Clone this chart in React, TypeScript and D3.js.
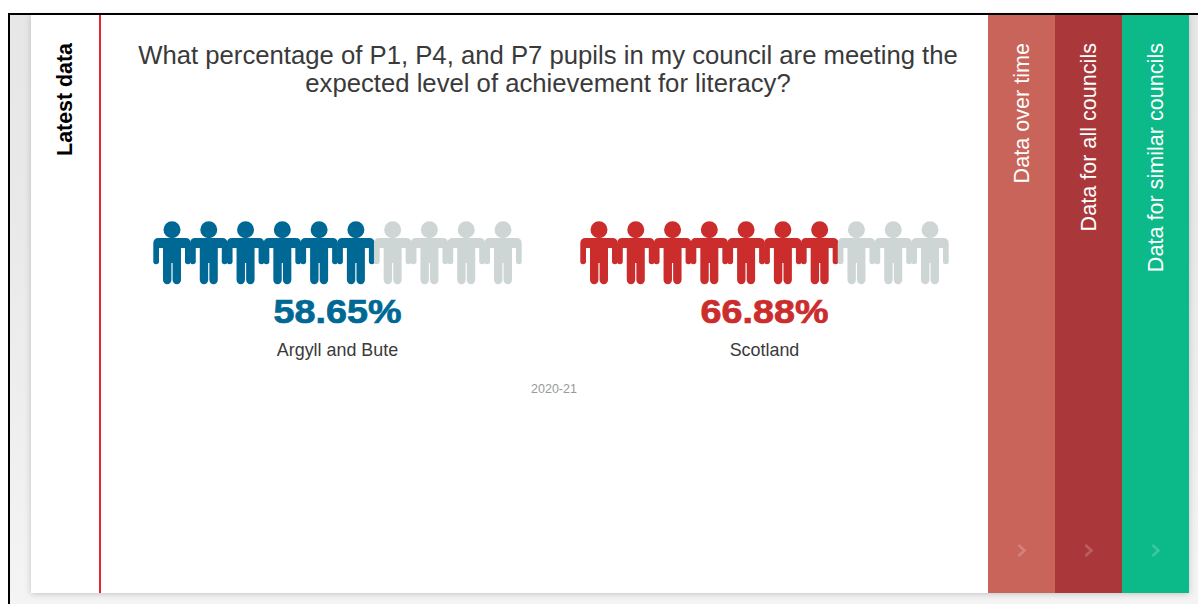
import React from "react";
import * as d3 from "d3";

const titleLines = [
  "What percentage of P1, P4, and P7 pupils in my council are meeting the",
  "expected level of achievement for literacy?",
];
const areas = ["Argyll and Bute", "Scotland"];
const percents = [58.65, 66.88];
const areaColors = ["#006894", "#cb2c2c"];
const year = "2020-21";
const iconSlots = d3.range(10);
const tabLabels = ["Data over time", "Data for all councils", "Data for similar councils"];
const tabColors = ["#c9645a", "#aa383a", "#0cba89"];

const W = 1198;
const H = 604;

// person glyph, origin at the middle of the shoulders
const body = d3.path();
body.moveTo(-13.5, 0);
body.lineTo(13.5, 0);
body.quadraticCurveTo(18.7, 0, 18.7, 5.5);
body.lineTo(18.7, 23.5);
body.quadraticCurveTo(18.7, 26.2, 16, 26.2);
body.quadraticCurveTo(13, 26.2, 13, 23.5);
body.lineTo(13, 10);
body.lineTo(9, 10);
body.lineTo(9, 42);
body.arc(4.8, 42, 4.2, 0, Math.PI);
body.lineTo(0.6, 25);
body.lineTo(-0.6, 25);
body.lineTo(-0.6, 42);
body.arc(-4.8, 42, 4.2, 0, Math.PI);
body.lineTo(-9, 10);
body.lineTo(-13, 10);
body.lineTo(-13, 23.5);
body.quadraticCurveTo(-13, 26.2, -16, 26.2);
body.quadraticCurveTo(-18.7, 26.2, -18.7, 23.5);
body.lineTo(-18.7, 5.5);
body.quadraticCurveTo(-18.7, 0, -13.5, 0);
body.closePath();
body.moveTo(8.5, -8.3);
body.arc(0, -8.3, 8.5, 0, Math.PI * 2);

const panelX = d3.scalePoint<number>().domain([0, 1]).range([337.5, 764.5]);
const tabX = d3.scaleBand<number>().domain([0, 1, 2]).range([988, 1189]);
const font = "'Liberation Sans', Arial, sans-serif";

function PersonRow({ pct, color, cx }: { pct: number; color: string; cx: number }) {
  const x = d3.scalePoint<number>().domain(iconSlots).range([cx - 165.5, cx + 165.5]);
  const filled = Math.round(pct / 10);
  return (
    <g>
      {iconSlots.map((i) => (
        <path
          key={i}
          d={body.toString()}
          transform={`translate(${x(i)},238)`}
          fill={i < filled ? color : "#cdd5d5"}
        />
      ))}
    </g>
  );
}

export default function App() {
  return (
    <svg
      width={W}
      height={H}
      style={{ position: "absolute", left: 0, top: 0, display: "block" }}
      fontFamily={font}
    >
      <defs>
        <filter id="shadow" x="-2%" y="-2%" width="104%" height="104%">
          <feDropShadow dx="0" dy="1" stdDeviation="3" floodColor="#000" floodOpacity="0.2" />
        </filter>
        <linearGradient id="pageBg" x1="0" y1="0" x2="0" y2="1">
          <stop offset="0" stopColor="#e7e7e7" />
          <stop offset="0.35" stopColor="#e9e9e9" />
          <stop offset="1" stopColor="#f4f4f4" />
        </linearGradient>
      </defs>
      <rect width={W} height={H} fill="#fff" />
      <rect x={10} y={15} width={W - 10} height={H - 15} fill="url(#pageBg)" />
      <rect x={31} y={15} width={1158} height={578} fill="#fff" filter="url(#shadow)" />
      <rect x={8} y={13} width={W - 8} height={2} fill="#000" />
      <rect x={8} y={13} width={2} height={H - 13} fill="#000" />
      <rect x={99} y={15} width={2} height={578} fill="#e8262a" />

      <text
        transform="translate(72,43) rotate(-90)"
        textAnchor="end"
        fontSize={21.4}
        fontWeight="bold"
        fill="#000"
      >
        Latest data
      </text>

      {titleLines.map((line, i) => (
        <text key={i} x={548} y={63.5 + i * 28.5} textAnchor="middle" fontSize={25.7} fill="#3a3a3a">
          {line}
        </text>
      ))}

      {areas.map((area, i) => (
        <g key={area}>
          <PersonRow pct={percents[i]} color={areaColors[i]} cx={panelX(i)!} />
          <text
            transform={`translate(${panelX(i)!},323) scale(1.16,1)`}
            textAnchor="middle"
            fontSize={32.5}
            fontWeight="bold"
            stroke={areaColors[i]}
            strokeWidth={0.7}
            fill={areaColors[i]}
          >
            {d3.format(".2f")(percents[i])}%
          </text>
          <text x={panelX(i)!} y={356} textAnchor="middle" fontSize={17.9} fill="#3a3a3a">
            {area}
          </text>
        </g>
      ))}
      <text x={554} y={393} textAnchor="middle" fontSize={12.5} fill="#999">
        {year}
      </text>

      {tabLabels.map((label, i) => {
        const cx = tabX(i)! + tabX.bandwidth() / 2;
        return (
          <g key={label}>
            <rect x={tabX(i)!} y={15} width={tabX.bandwidth()} height={578} fill={tabColors[i]} />
            <text
              transform={`translate(${cx + 7.5},43) rotate(-90)`}
              textAnchor="end"
              fontSize={21.6}
              fill="#fff"
            >
              {label}
            </text>
            <path
              d={`M${cx - 3},545 L${cx + 3},550.5 L${cx - 3},556`}
              fill="none"
              stroke="#fff"
              strokeOpacity={0.2}
              strokeWidth={2.5}
            />
          </g>
        );
      })}
    </svg>
  );
}
